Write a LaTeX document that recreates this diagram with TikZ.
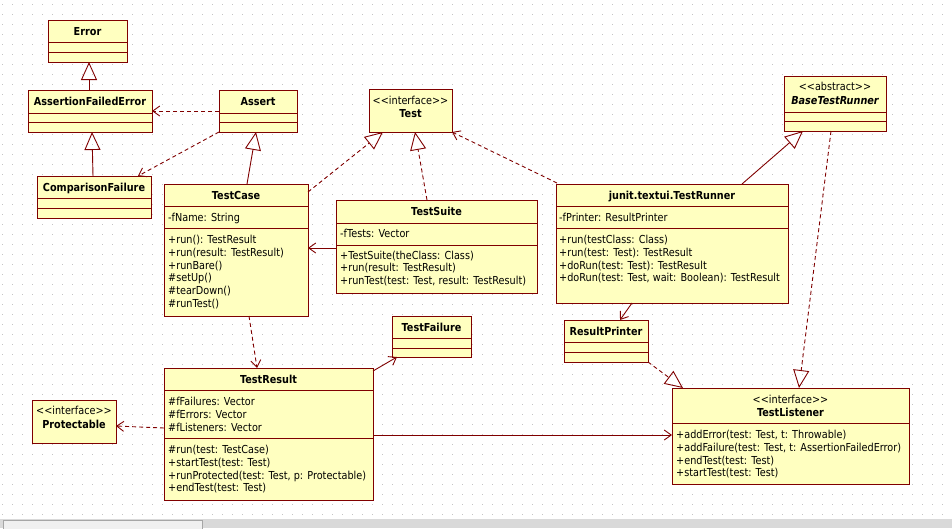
\documentclass[tikz,border=0pt]{standalone}
\usepackage{fontspec}
\setmainfont{DejaVu Sans}[FakeStretch=0.88]
\usetikzlibrary{arrows.meta}
\definecolor{umlline}{HTML}{800000}
\definecolor{umlfill}{HTML}{FFFFC0}
\definecolor{griddot}{HTML}{C4C4C4}
\tikzset{
  cls/.style={draw=umlline, fill=umlfill, line width=1pt, inner sep=0pt, outer sep=0pt, rectangle},
  divl/.style={draw=umlline, line width=1pt},
  txt/.style={anchor=base west, inner sep=0pt, font=\fontsize{11}{13}\selectfont},
  nm/.style={anchor=base, inner sep=0pt, font=\fontsize{11}{13}\selectfont\bfseries},
  stereo/.style={anchor=base, inner sep=0pt, font=\fontsize{11}{13}\selectfont},
  conn/.style={draw=umlline, line width=0.9pt},
  dsh/.style={dash pattern=on 4pt off 3pt},
  gen/.style={conn, -{Triangle[open, length=18pt, width=16pt]}},
  real/.style={conn, dsh, -{Triangle[open, length=18pt, width=16pt]}},
  dep/.style={conn, dsh, -{Straight Barb[length=7pt, width=10pt]}},
  assoc/.style={conn, -{Straight Barb[length=7pt, width=10pt]}},
}
\newcommand\umlbox[5]{\node[cls, anchor=north west, minimum width={#4-#2}, minimum height={#5-#3}] (#1) at (#2,#3) {};}
\newcommand\hdiv[3]{\draw[divl] (#1,#3) -- (#2,#3);}
\newcommand\umllines[4]{\foreach \tline [count=\i from 0] in {#4} \node[txt] (#3\i) at (#1,{#2+12.8*\i}) {\tline};}
\begin{document}
\begin{tikzpicture}[x=1pt,y=-1pt]
\useasboundingbox (0,0) rectangle (952,528);
\fill[white] (0,0) rectangle (952,528);
\foreach \gy in {4,14,...,514}
  \draw[griddot, line width=1pt, dash pattern=on 1pt off 9pt] (2,\gy) -- (952,\gy);
% bottom scroll bar
\fill[gray!30] (0,519) rectangle (952,528);
\draw[gray!70, fill=gray!12, line width=0.8pt] (3,520) rectangle (202,529);

% boxes
\umlbox{err}{48}{20}{127}{62}
\umlbox{afe}{28}{90}{152}{132}
\umlbox{asrt}{219}{90}{297}{132}
\umlbox{cf}{37}{176}{151}{218}
\umlbox{tc}{164}{184}{308}{316}
\umlbox{ts}{336}{200}{537}{293}
\umlbox{test}{369}{89}{452}{132}
\umlbox{btr}{784}{76}{886}{131}
\umlbox{tr}{556}{184}{788}{303}
\umlbox{rp}{564}{320}{648}{362}
\umlbox{tf}{392}{316}{471}{357}
\umlbox{tres}{164}{368}{373}{500}
\umlbox{prot}{32}{400}{116}{443}
\umlbox{tl}{672}{388}{909}{484}

% dividers
\hdiv{48}{127}{42}\hdiv{48}{127}{52}
\hdiv{28}{152}{113}\hdiv{28}{152}{122}
\hdiv{219}{297}{113}\hdiv{219}{297}{122}
\hdiv{37}{151}{198}\hdiv{37}{151}{208}
\hdiv{164}{308}{206}\hdiv{164}{308}{228}
\hdiv{336}{537}{223}\hdiv{336}{537}{245}
\hdiv{784}{886}{112}\hdiv{784}{886}{121}
\hdiv{556}{788}{206}\hdiv{556}{788}{228}
\hdiv{564}{648}{342}\hdiv{564}{648}{352}
\hdiv{392}{471}{338}\hdiv{392}{471}{348}
\hdiv{164}{373}{390}\hdiv{164}{373}{438}
\hdiv{672}{909}{423}

% names
\node[nm] (errN) at (87.5,35.5) {Error};
\node[nm] (afeN) at (90,105.5) {AssertionFailedError};
\node[nm] (asrtN) at (258,105.5) {Assert};
\node[nm] (cfN) at (94,191.5) {ComparisonFailure};
\node[nm] (tcN) at (236,199.5) {TestCase};
\node[nm] (tsN) at (436.5,215) {TestSuite};
\node[stereo] (testS) at (410.5,104) {<\kern0pt<interface>\kern0pt>};
\node[nm] (testN) at (410.5,117.5) {Test};
\node[nm] (trN) at (672,199.5) {junit.textui.TestRunner};
\node[stereo] (btrS) at (835,90.5) {<\kern0pt<abstract>\kern0pt>};
\node[nm, font=\fontsize{11}{13}\selectfont\bfseries\itshape] (btrN) at (835,104) {BaseTestRunner};
\node[nm] (rpN) at (606,335.5) {ResultPrinter};
\node[nm] (tfN) at (431.5,331.5) {TestFailure};
\node[nm] (tresN) at (268.5,383.5) {TestResult};
\node[stereo] (protS) at (74,414.5) {<\kern0pt<interface>\kern0pt>};
\node[nm] (protN) at (74,428) {Protectable};
\node[stereo] (tlS) at (790.5,403) {<\kern0pt<interface>\kern0pt>};
\node[nm] (tlN) at (790.5,416) {TestListener};

% members
\umllines{168}{221.5}{tcA}{{-fName: String}}
\umllines{168}{243.5}{tcM}{{+run(): TestResult},{+run(result: TestResult)},{+runBare()},{\#setUp()},{\#tearDown()},{\#runTest()}}
\umllines{340}{237.5}{tsA}{{-fTests: Vector}}
\umllines{340}{259}{tsM}{{+TestSuite(theClass: Class)},{+run(result: TestResult)},{+runTest(test: Test, result: TestResult)}}
\umllines{559}{221}{trA}{{-fPrinter: ResultPrinter}}
\umllines{559}{243.5}{trM}{{+run(testClass: Class)},{+run(test: Test): TestResult},{+doRun(test: Test): TestResult},{+doRun(test: Test, wait: Boolean): TestResult}}
\umllines{168}{405.5}{tresA}{{\#fFailures: Vector},{\#fErrors: Vector},{\#fListeners: Vector}}
\umllines{168}{453.5}{tresM}{{\#run(test: TestCase)},{+startTest(test: Test)},{+runProtected(test: Test, p: Protectable)},{+endTest(test: Test)}}
\umllines{676}{438.5}{tlM}{{+addError(test: Test, t: Throwable)},{+addFailure(test: Test, t: AssertionFailedError)},{+endTest(test: Test)},{+startTest(test: Test)}}

% connectors
\draw[gen] ([xshift=61pt]afe.north west) -- ([xshift=41pt]err.south west);
\draw[gen] ([xshift=56pt]cf.north west) -- ([xshift=64pt]afe.south west);
\draw[dep] ([yshift=-21pt]asrt.north west) -- ([yshift=-21pt]afe.north east);
\draw[dep] (asrt.south west) -- ([xshift=101pt]cf.north west);
\draw[gen] ([xshift=83pt]tc.north west) -- ([xshift=37pt]asrt.south west);
\draw[real] ([yshift=-8pt]tc.north east) -- ([xshift=14pt]test.south west);
\draw[real] ([xshift=91pt]ts.north west) -- ([xshift=46pt]test.south west);
\draw[dep] ([xshift=1pt,yshift=1pt]tr.north west) -- (test.south east);
\draw[assoc] ([yshift=-48pt]ts.north west) -- ([yshift=-64pt]tc.north east);
\draw[dep] ([xshift=85pt]tc.south west) -- ([xshift=93pt]tres.north west);
\draw[assoc] ([yshift=-3pt]tres.north east) -- ([xshift=5pt]tf.south west);
\draw[dep] ([yshift=-60pt]tres.north west) -- ([yshift=-26pt]prot.north east);
\draw[assoc] ([yshift=-67pt]tres.north east) -- ([yshift=-47pt]tl.north west);
\draw[gen] ([xshift=186pt]tr.north west) -- ([xshift=19pt]btr.south west);
\draw[assoc] ([xshift=76pt]tr.south west) -- ([xshift=56pt]rp.north west);
\draw[real] (rp.south east) -- ([xshift=11pt]tl.north west);
\draw[real] ([xshift=47pt]btr.south west) -- ([xshift=127pt]tl.north west);
\end{tikzpicture}
\end{document}
